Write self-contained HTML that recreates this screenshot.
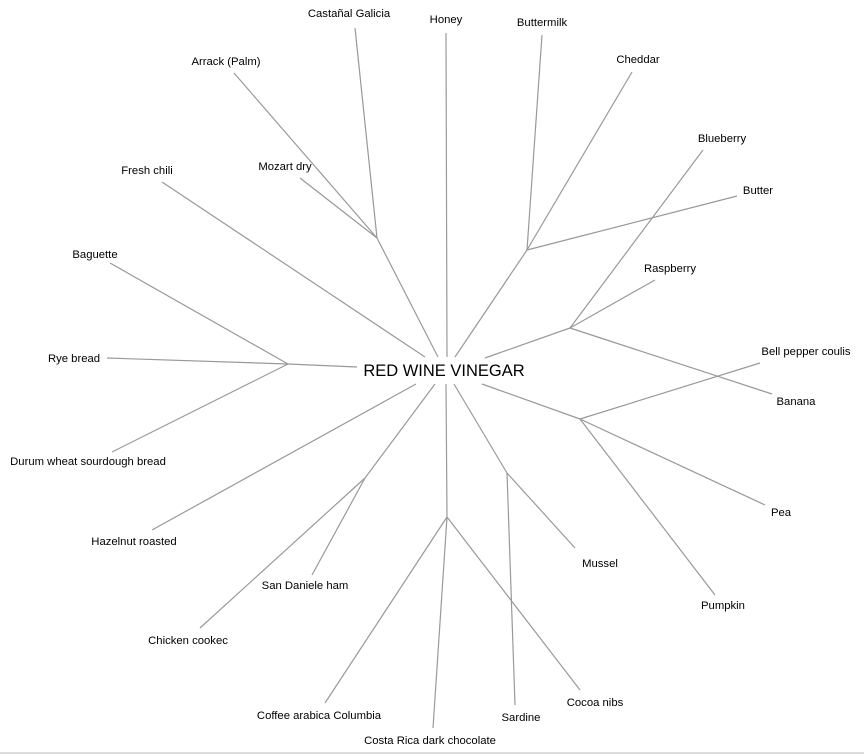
<!DOCTYPE html>
<html><head><meta charset="utf-8"><style>
html,body{margin:0;padding:0;background:#fff;}
svg{display:block;}
text{font-family:"Liberation Sans",sans-serif;font-size:11.3px;fill:#000;}
</style></head><body>
<svg width="864" height="755" viewBox="0 0 864 755" xmlns="http://www.w3.org/2000/svg">
<g stroke="#999" stroke-width="1.2" fill="none">
<line x1="355" y1="28" x2="377" y2="238"/>
<line x1="234" y1="73" x2="377" y2="238"/>
<line x1="300" y1="178" x2="377" y2="238"/>
<line x1="377" y1="238" x2="438" y2="357"/>
<line x1="446" y1="33" x2="447" y2="357"/>
<line x1="542" y1="35" x2="527" y2="250"/>
<line x1="632" y1="72" x2="527" y2="250"/>
<line x1="737" y1="196" x2="527" y2="250"/>
<line x1="527" y1="250" x2="455" y2="357"/>
<line x1="703" y1="150" x2="570" y2="328"/>
<line x1="655" y1="280" x2="570" y2="328"/>
<line x1="772" y1="394" x2="570" y2="328"/>
<line x1="570" y1="328" x2="485" y2="358"/>
<line x1="760" y1="363" x2="580" y2="419"/>
<line x1="765" y1="505" x2="580" y2="419"/>
<line x1="715" y1="595" x2="580" y2="419"/>
<line x1="580" y1="419" x2="482" y2="384"/>
<line x1="575" y1="548" x2="507" y2="473"/>
<line x1="507" y1="473" x2="515" y2="705"/>
<line x1="507" y1="473" x2="454" y2="384"/>
<line x1="580" y1="690" x2="447" y2="517"/>
<line x1="325" y1="703" x2="447" y2="517"/>
<line x1="433" y1="728" x2="447" y2="517"/>
<line x1="447" y1="517" x2="446" y2="384"/>
<line x1="312" y1="575" x2="365" y2="478"/>
<line x1="200" y1="628" x2="365" y2="478"/>
<line x1="365" y1="478" x2="435" y2="384"/>
<line x1="152" y1="530" x2="416" y2="384"/>
<line x1="110" y1="263" x2="288" y2="364"/>
<line x1="107" y1="358" x2="288" y2="364"/>
<line x1="112" y1="452" x2="288" y2="364"/>
<line x1="288" y1="364" x2="357" y2="367"/>
<line x1="162" y1="182" x2="425" y2="357"/>
</g>
<line x1="0" y1="753" x2="864" y2="753" stroke="#bbb"/>
<text x="444" y="376" text-anchor="middle" style="font-size:16.5px">RED WINE VINEGAR</text>
<g text-anchor="middle">
<text x="349" y="17">Castañal Galicia</text>
<text x="226" y="65">Arrack (Palm)</text>
<text x="285" y="170">Mozart dry</text>
<text x="446" y="23">Honey</text>
<text x="542" y="26">Buttermilk</text>
<text x="638" y="63">Cheddar</text>
<text x="722" y="142">Blueberry</text>
<text x="758" y="194">Butter</text>
<text x="670" y="272">Raspberry</text>
<text x="806" y="355">Bell pepper coulis</text>
<text x="796" y="405">Banana</text>
<text x="781" y="516">Pea</text>
<text x="723" y="609">Pumpkin</text>
<text x="600" y="567">Mussel</text>
<text x="595" y="706">Cocoa nibs</text>
<text x="521" y="721">Sardine</text>
<text x="430" y="744">Costa Rica dark chocolate</text>
<text x="319" y="719">Coffee arabica Columbia</text>
<text x="305" y="589">San Daniele ham</text>
<text x="188" y="644">Chicken cookec</text>
<text x="134" y="545">Hazelnut roasted</text>
<text x="88" y="465">Durum wheat sourdough bread</text>
<text x="74" y="362">Rye bread</text>
<text x="95" y="258">Baguette</text>
<text x="147" y="174">Fresh chili</text>
</g>
</svg>
</body></html>
